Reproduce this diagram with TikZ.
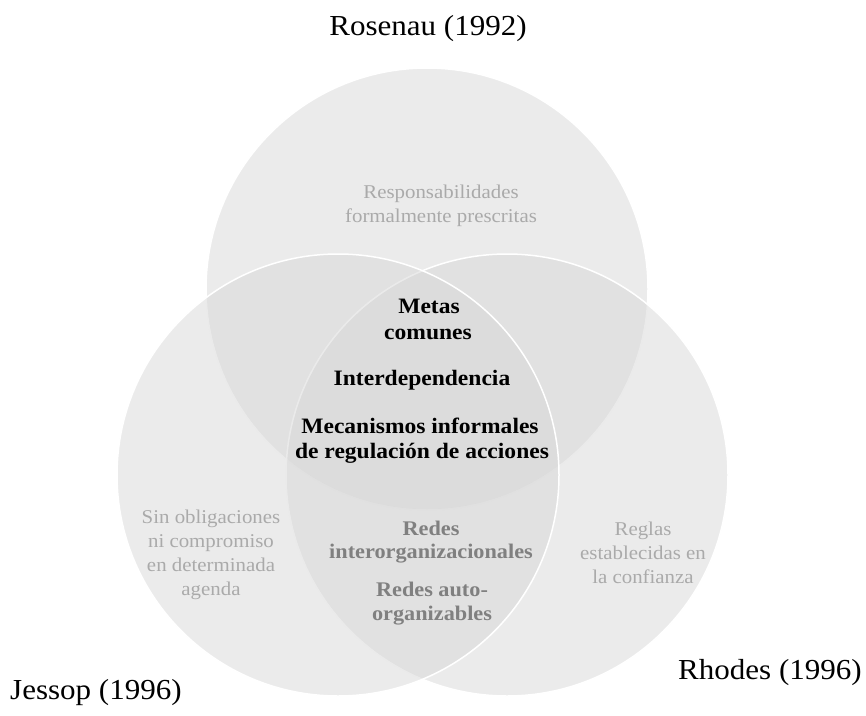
\documentclass[tikz,border=0pt]{standalone}
\usepackage{fontspec}
\setmainfont{Liberation Serif}
\newfontfamily\vf[FakeStretch=1.07]{Liberation Serif}
\definecolor{vennfill}{RGB}{215,215,215}
\definecolor{outergray}{RGB}{170,170,170}
\definecolor{midgray}{RGB}{128,128,128}
\tikzset{
  venn/.style={circle, minimum size=442pt, inner sep=0pt, fill=vennfill, fill opacity=0.5, draw=white, draw opacity=1, line width=1.5pt},
  lab/.style={font=\vf\fontsize{29}{33}\selectfont, text=black, anchor=base, inner sep=0pt},
  core/.style={font=\vf\bfseries\fontsize{22}{26}\selectfont, text=black, anchor=base, inner sep=0pt},
  sub/.style={font=\vf\bfseries\fontsize{20.8}{25}\selectfont, text=midgray, anchor=base, inner sep=0pt},
  outer/.style={font=\vf\fontsize{19.5}{23}\selectfont, text=outergray, anchor=base, inner sep=0pt}
}
\begin{document}
\begin{tikzpicture}[x=1pt,y=-1pt]
\useasboundingbox (0,0) rectangle (866,715);
% circles: top, right, left (drawing order)
\node[venn] (rosenau) at (427,289) {};
\node[venn] (rhodes) at (507,475) {};
\node[venn] (jessop) at (338,475) {};
% labels
\node[lab] (lR) at (428,35) {Rosenau (1992)};
\node[lab] (lJ) at (96,699) {Jessop (1996)};
\node[lab] (lRh) at (770,679) {Rhodes (1996)};
% top circle only
\node[outer] (t1) at (441,198) {Responsabilidades};
\node[outer] (t2) at (441,222) {formalmente prescritas};
% centre
\node[core] (c1) at (429,313) {Metas};
\node[core] (c2) at (428,339) {comunes};
\node[core] (c3) at (422,385) {Interdependencia};
\node[core] (c4) at (420,433) {Mecanismos informales};
\node[core] (c5) at (422,458) {de regulación de acciones};
% left-right overlap
\node[sub] (s1) at (431,535) {Redes};
\node[sub] (s2) at (431,558) {interorganizacionales};
\node[sub] (s3) at (432,596) {Redes auto-};
\node[sub] (s4) at (432,620) {organizables};
% left only
\node[outer] (j1) at (211,523) {Sin obligaciones};
\node[outer] (j2) at (211,547) {ni compromiso};
\node[outer] (j3) at (211,571) {en determinada};
\node[outer] (j4) at (211,595) {agenda};
% right only
\node[outer] (r1) at (643,535) {Reglas};
\node[outer] (r2) at (643,559) {establecidas en};
\node[outer] (r3) at (643,583) {la confianza};
\end{tikzpicture}
\end{document}
